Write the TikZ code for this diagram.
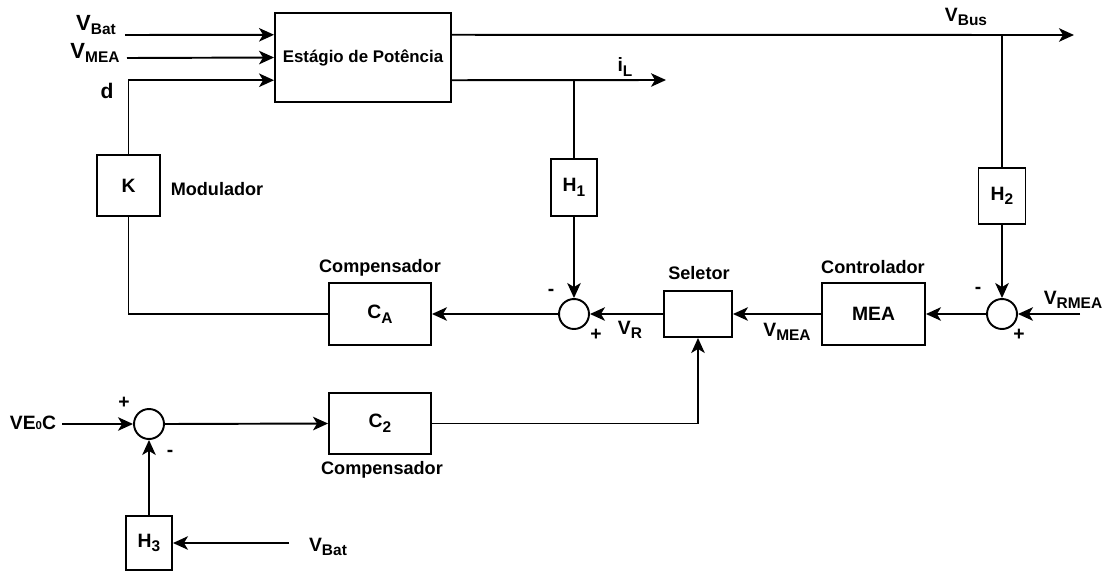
\documentclass[tikz,border=0pt]{standalone}
\usepackage{fontspec}
\setmainfont{Liberation Sans}
\usepackage{tikz}
\usetikzlibrary{arrows.meta,positioning,calc}
\newcommand{\sig}[2]{#1\raisebox{-2.6pt}{\fontsize{8.8}{10}\selectfont #2}}

\begin{document}
\begin{tikzpicture}[
  x=0.02cm, y=-0.02cm,
  font=\bfseries\fontsize{10.3}{12}\selectfont,
  block/.style={draw, line width=1.1pt, inner sep=0pt, align=center,
    font=\bfseries\fontsize{11}{13}\selectfont},
  sumnode/.style={draw, circle, line width=1.1pt, inner sep=0pt, minimum size=0.6cm},
  lbl/.style={inner sep=0pt, font=\bfseries\fontsize{11}{13}\selectfont},
  sign/.style={inner sep=0pt, font=\bfseries\fontsize{11}{13}\selectfont},
  wire/.style={line width=1.1pt},
  flow/.style={-{Stealth[length=3mm, width=2.7mm, inset=0.8mm]}, line width=1.1pt}
]
\useasboundingbox (0,0) rectangle (1109,572);
% power stage and its inputs
\node[block, minimum width=3.52cm, minimum height=1.78cm,
  font=\bfseries\fontsize{9.6}{11}\selectfont] (stage) at (363,57.5) {Estágio de Potência};
\coordinate (sbat) at ($(stage.north west)!0.25!(stage.south west)$);
\coordinate (smea) at ($(stage.north west)!0.5!(stage.south west)$);
\coordinate (sd)   at ($(stage.north west)!0.75!(stage.south west)$);
\coordinate (sbus) at ($(stage.north east)!0.25!(stage.south east)$);
\coordinate (sil)  at ($(stage.north east)!0.75!(stage.south east)$);
\coordinate (inbat) at (125,35);
\coordinate (inmea) at (127,58);
\coordinate (busend) at (1074,35);
\coordinate (ilend) at (666,80);
\node[lbl, font=\bfseries\fontsize{12.5}{14}\selectfont] (vbat) at (96,25) {\sig{V}{Bat}};
\node[lbl, font=\bfseries\fontsize{12.5}{14}\selectfont] (vmea) at (95,53) {\sig{V}{MEA}};
\node[lbl, font=\bfseries\fontsize{12}{14}\selectfont] (dlbl) at (107,91) {d};
\node[lbl] (vbus) at (966,17) {\sig{V}{Bus}};
\node[lbl] (il) at (625,67) {\sig{i}{L}};
% modulator
\node[block, minimum width=1.26cm, minimum height=1.22cm] (mod) at (128.5,185.5) {K};
\node[lbl, font=\bfseries\fontsize{10.3}{12}\selectfont] (modlbl) at (217,189) {Modulador};
% sensors
\node[block, minimum width=0.92cm, minimum height=1.14cm] (h1) at (574,187.5) {\sig{H}{1}};
\node[block, minimum width=0.94cm, minimum height=1.12cm] (h2) at (1002,196) {\sig{H}{2}};
\node[block, minimum width=0.92cm, minimum height=1.08cm] (h3) at (149,543) {\sig{H}{3}};
% middle row
\node[block, minimum width=2.04cm, minimum height=1.24cm] (ca) at (380,314) {\sig{C}{A}};
\node[lbl, font=\bfseries\fontsize{10.3}{12}\selectfont] (calbl) at (380,268) {Compensador};
\node[sumnode] (s1) at (574,314) {};
\node[sign] (s1m) at (551,292) {-};
\node[sign] (s1p) at (596,335) {+};
\node[block, minimum width=1.36cm, minimum height=0.92cm] (sel) at (698,314) {};
\node[lbl, font=\bfseries\fontsize{10.3}{12}\selectfont] (sellbl) at (699,273) {Seletor};
\node[lbl] (vr) at (630,330) {\sig{V}{R}};
\node[block, minimum width=2.06cm, minimum height=1.24cm] (mea) at (873.5,314) {MEA};
\node[lbl, font=\bfseries\fontsize{10.3}{12}\selectfont] (mealbl) at (873,267) {Controlador};
\node[lbl] (vmea2) at (787,332) {\sig{V}{MEA}};
\node[sumnode] (s2) at (1002,314) {};
\node[sign] (s2m) at (978,290) {-};
\node[sign] (s2p) at (1019,335) {+};
\node[lbl] (vrmea) at (1073,300) {\sig{V}{RMEA}};
\coordinate (inrmea) at (1080,314);
% bottom row
\node[sumnode] (s3) at (149,424) {};
\node[sign] (s3p) at (124,403) {+};
\node[sign] (s3m) at (170,453) {-};
\node[lbl] (veoc) at (33,423) {VE{\fontsize{6.5}{7}\selectfont 0}C};
\coordinate (ineoc) at (62,424);
\node[block, minimum width=2.04cm, minimum height=1.22cm] (c2) at (380,423.5) {\sig{C}{2}};
\node[lbl, font=\bfseries\fontsize{10.3}{12}\selectfont] (c2lbl) at (382,470) {Compensador};
\node[lbl] (vbat2) at (328,547) {\sig{V}{Bat}};
\coordinate (inbat2) at (289,543);
% flows
\draw[flow] (inbat) -- (sbat);
\draw[flow] (inmea) -- (smea);
\draw[flow] (mod.north) |- (sd);
\draw[flow] (sbus) -- (busend);
\draw[flow] (sil) -- (ilend);
\draw[wire] (h1.north) -- (h1.north |- sil);
\draw[wire] (h2.north) -- (h2.north |- sbus);
\draw[flow] (h1.south) -- (s1.north);
\draw[flow] (h2.south) -- (s2.north);
\draw[flow] (inrmea) -- (s2.east);
\draw[flow] (s2.west) -- (mea.east);
\draw[flow] (mea.west) -- (sel.east);
\draw[flow] (sel.west) -- (s1.east);
\draw[flow] (s1.west) -- (ca.east);
\draw[wire] (ca.west) -| (mod.south);
\draw[flow] (ineoc) -- (s3.west);
\draw[flow] (s3.east) -- (c2.west);
\draw[flow] (c2.east) -| (sel.south);
\draw[flow] (h3.north) -- (s3.south);
\draw[flow] (inbat2) -- (h3.east);
\end{tikzpicture}
\end{document}
